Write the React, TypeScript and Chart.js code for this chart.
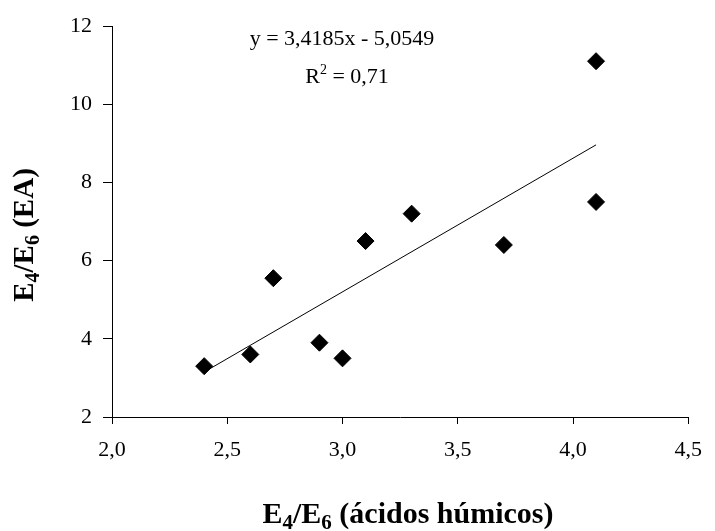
import React, { useEffect, useRef } from "react";
import { Chart, registerables } from "chart.js";

Chart.register(...registerables);

const xValues = [2.4, 2.6, 2.7, 2.9, 3.0, 3.1, 3.3, 3.7, 4.1, 4.1];
const yValues = [3.3, 3.6, 5.55, 3.9, 3.5, 6.5, 7.2, 6.4, 11.1, 7.5];
const trendX = [2.4, 4.1];
const trendY = [3.15, 8.96];
const equationText = "y = 3,4185x - 5,0549";
const r2Base = "R";
const r2Sup = "2";
const r2Rest = " = 0,71";
const xTitleParts = [
  { t: "E", sub: false },
  { t: "4", sub: true },
  { t: "/E", sub: false },
  { t: "6", sub: true },
  { t: " (ácidos húmicos)", sub: false },
];
const yTitleParts = [
  { t: "E", sub: false },
  { t: "4", sub: true },
  { t: "/E", sub: false },
  { t: "6", sub: true },
  { t: " (EA)", sub: false },
];

const FONT = "'Liberation Serif', 'Times New Roman', serif";

function drawParts(ctx: CanvasRenderingContext2D, parts: { t: string; sub: boolean }[], size: number, cx: number, cy: number) {
  const mainFont = `bold ${size}px ${FONT}`;
  const subFont = `bold ${Math.round(size * 0.7)}px ${FONT}`;
  let total = 0;
  const widths = parts.map((p) => {
    ctx.font = p.sub ? subFont : mainFont;
    const w = ctx.measureText(p.t).width;
    total += w;
    return w;
  });
  let x = cx - total / 2;
  ctx.textAlign = "left";
  ctx.textBaseline = "alphabetic";
  parts.forEach((p, i) => {
    ctx.font = p.sub ? subFont : mainFont;
    ctx.fillText(p.t, x, p.sub ? cy + size * 0.2 : cy);
    x += widths[i];
  });
}

const annotPlugin = {
  id: "annot",
  afterDraw(chart: any) {
    const ctx = chart.ctx as CanvasRenderingContext2D;
    ctx.save();
    ctx.fillStyle = "#000";
    // equation
    ctx.font = `22px ${FONT}`;
    ctx.textAlign = "center";
    ctx.textBaseline = "alphabetic";
    ctx.fillText(equationText, 342, 45);
    // R^2
    ctx.font = `22px ${FONT}`;
    const wR = ctx.measureText(r2Base).width;
    const wRest = ctx.measureText(r2Rest).width;
    ctx.font = `14px ${FONT}`;
    const wS = ctx.measureText(r2Sup).width;
    const total = wR + wS + wRest;
    let x = 347 - total / 2;
    ctx.textAlign = "left";
    ctx.font = `22px ${FONT}`;
    ctx.fillText(r2Base, x, 83);
    x += wR;
    ctx.font = `14px ${FONT}`;
    ctx.fillText(r2Sup, x, 74);
    x += wS;
    ctx.font = `22px ${FONT}`;
    ctx.fillText(r2Rest, x, 83);
    // x title
    drawParts(ctx, xTitleParts, 30, 408, 523);
    // y title
    ctx.save();
    ctx.translate(33, 235);
    ctx.rotate(-Math.PI / 2);
    drawParts(ctx, yTitleParts, 29, 0, 0);
    ctx.restore();
    ctx.restore();
  },
};

export default function App() {
  const ref = useRef<HTMLCanvasElement | null>(null);
  useEffect(() => {
    if (!ref.current) return;
    const chart = new Chart(ref.current, {
      type: "scatter",
      data: {
        datasets: [
          {
            type: "scatter",
            data: xValues.map((x, i) => ({ x, y: yValues[i] })),
            pointStyle: "rectRot",
            pointRadius: 8.5,
            pointBackgroundColor: "#000",
            pointBorderColor: "#000",
            pointBorderWidth: 1,
          },
          {
            type: "line",
            data: trendX.map((x, i) => ({ x, y: trendY[i] })),
            borderColor: "#000",
            borderWidth: 1,
            pointRadius: 0,
            fill: false,
          } as any,
        ],
      },
      options: {
        responsive: true,
        maintainAspectRatio: false,
        animation: false,
        layout: { padding: { top: 26, right: 15, left: 0, bottom: 0 } },
        plugins: { legend: { display: false }, tooltip: { enabled: false } },
        scales: {
          x: {
            type: "linear",
            min: 2,
            max: 4.5,
            afterFit: (s: any) => {
              s.height = 114;
            },
            ticks: {
              stepSize: 0.5,
              color: "#000",
              font: { family: FONT, size: 22 },
              padding: 13,
              maxRotation: 0,
              callback: (v: any) => Number(v).toFixed(1).replace(".", ","),
            },
            grid: {
              drawOnChartArea: false,
              drawTicks: true,
              tickLength: 7,
              tickColor: "#000",
            },
            border: { display: true, color: "#000", width: 1 },
          },
          y: {
            type: "linear",
            min: 2,
            max: 12,
            afterFit: (s: any) => {
              s.width = 112;
            },
            ticks: {
              stepSize: 2,
              color: "#000",
              font: { family: FONT, size: 22 },
              padding: 11,
            },
            grid: {
              drawOnChartArea: false,
              drawTicks: true,
              tickLength: 9,
              tickColor: "#000",
            },
            border: { display: true, color: "#000", width: 1 },
          },
        },
      },
      plugins: [annotPlugin],
    });
    return () => chart.destroy();
  }, []);
  return (
    <div style={{ position: "absolute", left: 0, top: 0, width: 715, height: 531, background: "#fff" }}>
      <canvas ref={ref} />
    </div>
  );
}
